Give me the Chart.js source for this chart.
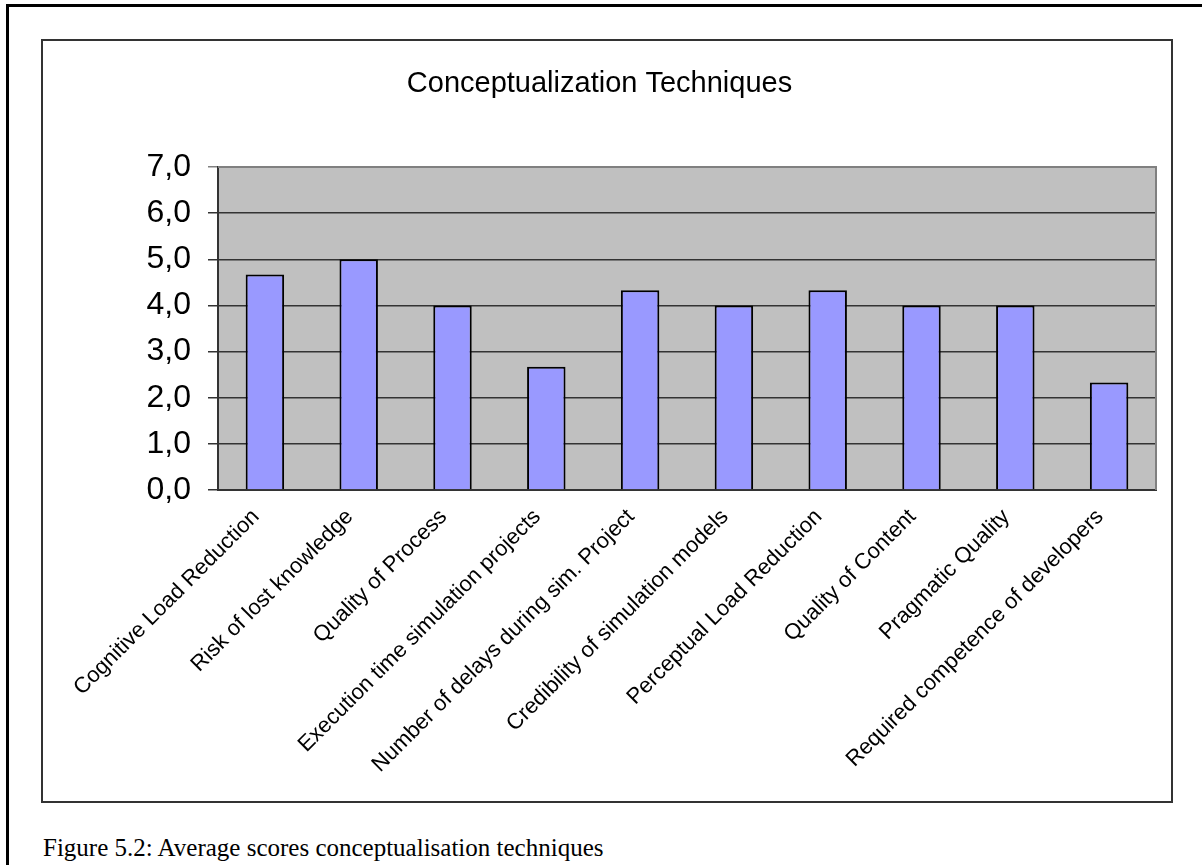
<!DOCTYPE html>
<html>
<head>
<meta charset="utf-8">
<script src="https://cdn.jsdelivr.net/npm/chart.js@4/dist/chart.umd.min.js"></script>
<style>
  html, body { margin: 0; padding: 0; background: #fff; width: 1202px; height: 865px; overflow: hidden; }
  .page-frame { position: absolute; left: 6px; top: 4px; width: 1196px; height: 861px;
    border-top: 3px solid #000; border-left: 3px solid #000; box-sizing: border-box; }
  .chart-box { position: absolute; left: 41px; top: 39px; width: 1132px; height: 764px;
    border: 2px solid #333; box-sizing: border-box; background: #fff; }
  .chart-box canvas { display: block; }
  .caption { position: absolute; left: 43px; top: 834px; font-family: "Liberation Serif", "Times New Roman", serif;
    font-size: 25px; color: #000; white-space: nowrap; }
</style>
</head>
<body>
<div class="page-frame"></div>
<div class="chart-box"><canvas id="chart" width="1128" height="760"></canvas></div>
<div class="caption">Figure 5.2: Average scores conceptualisation techniques</div>
<script>
// Criteria and their average scores
const categories = [
  'Cognitive Load Reduction',
  'Risk of lost knowledge',
  'Quality of Process',
  'Execution time simulation projects',
  'Number of delays during sim. Project',
  'Credibility of simulation models',
  'Perceptual Load Reduction',
  'Quality of Content',
  'Pragmatic Quality',
  'Required competence of developers'
];
const averageScores = [4.67, 5.0, 4.0, 2.67, 4.33, 4.0, 4.33, 4.0, 4.0, 2.33];
const yTickLabels = ['0,0', '1,0', '2,0', '3,0', '4,0', '5,0', '6,0', '7,0'];
const chartTitle = 'Conceptualization Techniques';

// Grey plot area with a light frame on top and right
const plotBackground = {
  id: 'plotBackground',
  beforeDraw(chart) {
    const { ctx, chartArea: a } = chart;
    ctx.save();
    ctx.fillStyle = '#C0C0C0';
    ctx.fillRect(a.left, a.top, a.right - a.left, a.bottom - a.top);
    ctx.restore();
  },
  afterDraw(chart) {
    const { ctx, chartArea: a } = chart;
    ctx.save();
    ctx.strokeStyle = '#808080';
    ctx.lineWidth = 2;
    ctx.beginPath();
    ctx.moveTo(a.left, a.top);
    ctx.lineTo(a.right, a.top);
    ctx.lineTo(a.right, a.bottom);
    ctx.stroke();
    ctx.restore();
  }
};

new Chart(document.getElementById('chart'), {
  type: 'bar',
  data: {
    labels: categories,
    datasets: [{
      data: averageScores,
      backgroundColor: '#9999FF',
      borderColor: '#000000',
      borderWidth: 2,
      barPercentage: 0.41,
      categoryPercentage: 1.0
    }]
  },
  options: {
    responsive: false,
    devicePixelRatio: 1,
    animation: false,
    layout: { padding: { left: 0, right: 15, top: 0, bottom: 0 } },
    plugins: {
      legend: { display: false },
      tooltip: { enabled: false },
      title: {
        display: true,
        text: chartTitle,
        color: '#000',
        font: { family: 'Liberation Sans, Arial, sans-serif', size: 29, weight: 'normal', lineHeight: 1.2 },
        padding: { top: 25.6, bottom: 65.6 }
      }
    },
    scales: {
      x: {
        grid: { display: true, drawOnChartArea: false, drawTicks: false, color: 'rgba(0,0,0,0)' },
        border: { display: true, color: '#333', width: 2 },
        ticks: {
          color: '#000',
          font: { family: 'Liberation Sans, Arial, sans-serif', size: 22 },
          maxRotation: 45, minRotation: 45,
          autoSkip: false,
          padding: 14,
          labelOffset: -9
        },
        afterFit(scale) { scale.height = 311; }
      },
      y: {
        min: 0, max: 7,
        ticks: {
          stepSize: 1,
          color: '#000',
          font: { family: 'Liberation Sans, Arial, sans-serif', size: 32 },
          padding: 17,
          callback: (v) => yTickLabels[Math.round(v)]
        },
        grid: {
          color: (c) => (c.tick && c.tick.value === 7 ? '#808080' : '#333'),
          lineWidth: 1.5,
          tickLength: 10
        },
        border: { display: true, color: '#333', width: 2 },
        afterFit(scale) { scale.width = 175; }
      }
    }
  },
  plugins: [plotBackground]
});
</script>
</body>
</html>
